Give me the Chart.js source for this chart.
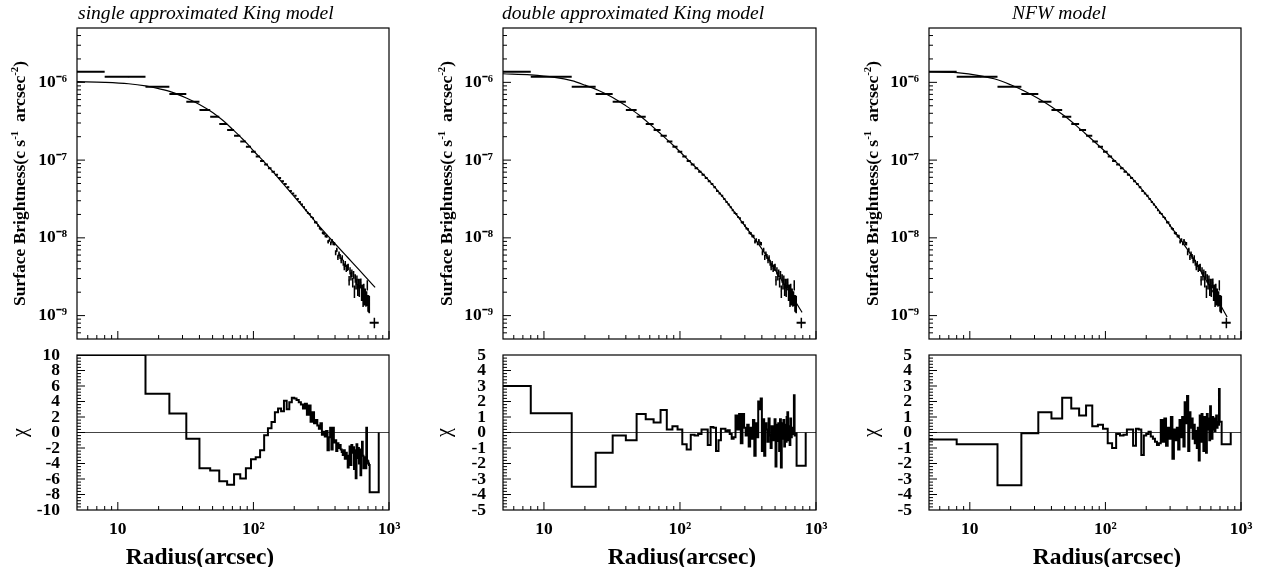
<!DOCTYPE html>
<html>
<head>
<meta charset="utf-8">
<script src="https://cdn.jsdelivr.net/npm/chart.js@4.4.1/dist/chart.umd.min.js"></script>
<style>
html,body{margin:0;padding:0;background:#fff;}
#wrap{position:relative;width:1270px;height:567px;overflow:hidden;background:#fff;}
#wrap canvas{position:absolute;}
</style>
</head>
<body>
<div id="wrap"></div>
<script>
// ---------------- DATA ----------------
const panelTitles = ['single approximated King model', 'double approximated King model', 'NFW model'];

// radial bins (arcsec)
const binLo = [0,8,16,24,32,40,48,56,64,72,80,88,96,104,112,120,128,136,144,152,160,168,176,184,192,200,208,216,224,232,240,248,256,264,272,280,288,296,304,312,320,328,336,344,352,360,368,376,384,392,400,408,416,424,432,440,448,456,464,472,480,488,496,504,512,520,528,536,544,552,560,568,576,584,592,600,608,616,624,632,640,648,656,664,672,680,688,696,704,712,720];
const binHi = [8,16,24,32,40,48,56,64,72,80,88,96,104,112,120,128,136,144,152,160,168,176,184,192,200,208,216,224,232,240,248,256,264,272,280,288,296,304,312,320,328,336,344,352,360,368,376,384,392,400,408,416,424,432,440,448,456,464,472,480,488,496,504,512,520,528,536,544,552,560,568,576,584,592,600,608,616,624,632,640,648,656,664,672,680,688,696,704,712,720,840];

// surface brightness (c s^-1 arcsec^-2) and its error
const brightness = [
 1.37e-6,1.18e-6,8.8e-7,7.1e-7,5.64e-7,4.41e-7,3.61e-7,2.91e-7,2.44e-7,2.05e-7,
 1.73e-7,1.49e-7,1.28e-7,1.11e-7,9.71e-8,8.76e-8,7.85e-8,7.09e-8,6.46e-8,5.89e-8,
 5.34e-8,4.94e-8,4.49e-8,4.0e-8,3.72e-8,3.49e-8,3.17e-8,2.9e-8,2.68e-8,2.47e-8,
 2.27e-8,2.10e-8,2.03e-8,1.86e-8,1.78e-8,1.59e-8,1.57e-8,1.44e-8,1.33e-8,1.29e-8,
 1.16e-8,1.14e-8,1.055e-8,1.05e-8,8.93e-9,9.41e-9,8.51e-9,9.15e-9,8.48e-9,8.41e-9,
 6.45e-9,7.02e-9,5.63e-9,6.24e-9,5.77e-9,5.15e-9,5.54e-9,4.81e-9,4.26e-9,4.63e-9,
 4.05e-9,4.15e-9,4.24e-9,2.84e-9,3.78e-9,3.21e-9,3.53e-9,2.68e-9,3.36e-9,2.06e-9,
 3.03e-9,2.54e-9,2.89e-9,2.16e-9,2.6e-9,2.1e-9,2.6e-9,2.64e-9,1.9e-9,2.15e-9,
 1.65e-9,2.2e-9,1.71e-9,1.87e-9,1.66e-9,1.69e-9,2.48e-9,1.48e-9,1.46e-9,1.43e-9,
 8.1e-10];
const brightnessErr = [
 2.5e-8,1.5e-8,1.0e-8,7e-9,5e-9,4e-9,3.2e-9,2.6e-9,2.2e-9,1.9e-9,
 1.7e-9,1.5e-9,1.3e-9,1.2e-9,1.1e-9,1.0e-9,9.5e-10,9e-10,8.5e-10,8e-10,
 8e-10,7.5e-10,7e-10,7e-10,6.5e-10,6.5e-10,6e-10,6e-10,5.5e-10,5.5e-10,
 5e-10,5.3e-10,5.2e-10,5e-10,5e-10,4.9e-10,4.9e-10,4.9e-10,4.8e-10,4.8e-10,
 4.7e-10,4.6e-10,4.6e-10,4.5e-10,4.8e-10,4.7e-10,4.8e-10,4.8e-10,4.7e-10,4.6e-10,
 4.6e-10,4.5e-10,4.4e-10,4.4e-10,4.3e-10,4.3e-10,4.4e-10,4.3e-10,4.2e-10,4.1e-10,
 4.1e-10,4.1e-10,4.1e-10,4.0e-10,4.0e-10,3.9e-10,3.9e-10,3.9e-10,3.8e-10,3.8e-10,
 3.8e-10,3.8e-10,3.8e-10,3.75e-10,3.7e-10,3.7e-10,3.7e-10,3.7e-10,3.6e-10,3.6e-10,
 3.6e-10,3.6e-10,3.6e-10,3.6e-10,3.6e-10,3.6e-10,3.7e-10,3.6e-10,3.6e-10,3.6e-10,
 1.25e-10];

// fitted model curves
const modelRadius = [5,8,12,16,20,25,32,40,50,60,70,80,90,100,120,150,200,250,300,400,500,600,700,790];
const modelSingleKing = [1.02e-6,1.0e-6,9.6e-7,9.0e-7,8.3e-7,7.5e-7,6.3e-7,5.2e-7,4.1e-7,3.2e-7,2.5e-7,2.0e-7,1.63e-7,1.32e-7,9.5e-8,6.1e-8,3.4e-8,2.15e-8,1.47e-8,8.4e-9,5.5e-9,3.9e-9,2.9e-9,2.3e-9];
const modelDoubleKing = [1.29e-6,1.25e-6,1.16e-6,1.05e-6,9.2e-7,7.9e-7,6.4e-7,5.0e-7,3.8e-7,2.9e-7,2.28e-7,1.85e-7,1.53e-7,1.28e-7,9.3e-8,6.4e-8,3.6e-8,2.18e-8,1.43e-8,7.2e-9,3.9e-9,2.36e-9,1.55e-9,1.1e-9];
const modelNFW = [1.37e-6,1.33e-6,1.21e-6,1.08e-6,9.3e-7,7.8e-7,6.2e-7,4.85e-7,3.68e-7,2.84e-7,2.25e-7,1.83e-7,1.52e-7,1.28e-7,9.4e-8,6.4e-8,3.6e-8,2.2e-8,1.44e-8,7.2e-9,3.85e-9,2.25e-9,1.4e-9,9.6e-10];

// residuals (chi) per bin
const chiSingleKing = [
 10,10,5.0,2.45,-0.8,-4.6,-4.9,-6.3,-6.75,-5.4,
 -5.95,-4.6,-3.45,-3.2,-2.3,-0.35,0.55,1.35,2.6,3.1,
 2.75,4.1,3.0,3.9,4.5,4.4,4.2,3.9,3.6,3.1,
 3.7,2.3,3.5,1.4,2.6,1.2,1.6,0.9,0.5,1.2,
 -0.3,0.1,-0.5,0.2,-2.3,-0.6,0.6,-2.2,0.6,-1.3,
 -1.0,-2.4,-1.4,-2.0,-1.6,-2.2,-2.5,-2.9,-2.3,-3.4,
 -2.6,-3.0,-4.5,-3.1,-1.8,-4.2,-1.6,-2.6,-1.9,-4.7,
 -2.3,-5.9,-1.5,-3.3,-2.0,-4.0,-2.2,-5.5,-2.8,-1.2,
 -3.0,-4.6,-3.2,-4.4,-4.6,0.6,-3.6,-3.7,-4.0,-4.2,
 -7.7];
const chiDoubleKing = [
 3.0,1.25,-3.5,-1.3,-0.2,-0.5,1.2,0.85,0.65,1.45,
 0.2,0.4,0.2,-0.75,-1.1,-0.15,-0.2,-0.1,0.2,0.2,
 -0.8,0.35,0.3,-1.2,-0.5,0.25,0.25,0.1,0.15,-0.1,
 -0.4,-0.3,1.1,0.2,1.2,-0.7,1.2,0.3,-0.2,0.5,
 -0.9,0.3,-0.4,0.8,-1.5,0.6,-0.3,2.0,1.5,2.2,
 -1.2,0.85,-1.5,0.6,0.2,-0.6,0.9,-0.2,-1.0,0.4,
 -0.5,0.2,0.85,-2.2,0.5,-0.55,0.6,-1.2,0.85,-2.25,
 0.6,-0.4,0.8,-0.9,0.5,-0.6,1.0,1.3,-0.5,0.4,
 -0.8,0.9,-0.3,0.3,-0.1,0.1,2.4,-0.2,-0.1,-0.05,
 -2.15];
const chiNFW = [
 -0.45,-0.75,-3.4,-0.05,1.3,0.9,2.25,1.55,1.1,1.75,
 0.4,0.5,0.25,-0.7,-1.0,-0.1,-0.2,-0.15,0.2,0.2,
 -0.85,0.25,0.2,-1.45,-0.2,-0.1,0.05,-0.25,-0.4,-0.6,
 -0.8,-0.7,0.8,-0.6,0.9,-0.85,0.3,-0.4,1.0,-1.7,
 0.2,-0.5,0.3,-1.1,0.8,-0.3,1.0,-0.9,1.95,0.6,
 2.35,-1.2,1.3,0.3,0.9,-0.4,0.5,-0.7,0.1,-1.0,
 0.3,-1.8,1.1,-0.6,1.2,0.2,-1.2,1.0,0.4,-1.3,
 1.2,0.2,0.9,-0.5,1.7,0.6,-0.4,1.0,0.2,0.9,
 0.1,0.5,1.1,0.3,0.7,0.5,2.8,0.7,0.7,0.7,
 -0.75];

// axis ranges and tick labels
const xMin = 5, xMax = 1000;
const xTickValues = [10, 100, 1000];
const xTickLabels = ['10', '10\u00B2', '10\u00B3'];
const yTopMin = 5e-10, yTopMax = 5e-6;
const yTopTickValues = [1e-9, 1e-8, 1e-7, 1e-6];
const yTopTickLabels = ['10\u207B\u2079', '10\u207B\u2078', '10\u207B\u2077', '10\u207B\u2076'];
const chiTicksWide = [-10,-8,-6,-4,-2,0,2,4,6,8,10];
const chiTicksNarrow = [-5,-4,-3,-2,-1,0,1,2,3,4,5];

// ---------------- LAYOUT ----------------
const FONT = "'Liberation Serif','Times New Roman',Times,serif";
Chart.defaults.font.family = FONT;
Chart.defaults.color = '#000';

const columns = [
  {canvasL: 0,   plotL: 77,  plotR: 389,  titleX: 78,   yTitleX: 25,  chiX: 26,  radX: 200,
   models: modelSingleKing, chi: chiSingleKing, chiTicks: chiTicksWide, chiRange: 10},
  {canvasL: 425, plotL: 503, plotR: 816,  titleX: 502,  yTitleX: 452, chiX: 450, radX: 682,
   models: modelDoubleKing, chi: chiDoubleKing, chiTicks: chiTicksNarrow, chiRange: 5},
  {canvasL: 850, plotL: 929, plotR: 1241, titleX: 1012, yTitleX: 878, chiX: 877, radX: 1107,
   models: modelNFW, chi: chiNFW, chiTicks: chiTicksNarrow, chiRange: 5}
];
const CANVAS_W = 420;
const TOP = {top: 0, height: 345, areaTop: 28, areaBottom: 339};
const BOT = {top: 340, height: 227, areaTop: 355, areaBottom: 510};

function addCanvas(left, top, w, h) {
  const c = document.createElement('canvas');
  c.width = w; c.height = h;
  c.style.left = left + 'px'; c.style.top = top + 'px';
  c.style.width = w + 'px'; c.style.height = h + 'px';
  document.getElementById('wrap').appendChild(c);
  return c;
}

function noPad(s) { s.paddingTop = 0; s.paddingBottom = 0; s.paddingLeft = 0; s.paddingRight = 0; }

function drawRich(ctx, parts, x, y, size, weight, style, align) {
  const supSize = size * 0.62;
  const fontOf = (p) => `${style} ${weight} ${p.sup ? supSize : size}px ${FONT}`;
  let total = 0;
  const widths = parts.map(p => { ctx.font = fontOf(p); const w = ctx.measureText(p.t).width; total += w; return w; });
  let cx = align === 'center' ? x - total / 2 : x;
  ctx.textAlign = 'left';
  ctx.textBaseline = 'alphabetic';
  parts.forEach((p, i) => {
    ctx.font = fontOf(p);
    ctx.fillText(p.t, cx, p.sup ? y - size * 0.42 : y);
    cx += widths[i];
  });
}

const rootStyle = {
  id: 'rootStyle',
  afterDraw(chart, args, opts) {
    const ctx = chart.ctx, a = chart.chartArea;
    const xs = chart.scales.x, ys = chart.scales.y;
    const col = columns[opts.ci];
    ctx.save();
    ctx.strokeStyle = '#000';
    ctx.fillStyle = '#000';
    // frame
    ctx.lineWidth = 1.2;
    ctx.strokeRect(a.left, a.top, a.right - a.left, a.bottom - a.top);
    // inward ticks
    ctx.lineWidth = 1;
    ctx.beginPath();
    for (let e = 0; e <= 3; e++) {
      for (let m = 1; m <= 9; m++) {
        const v = m * Math.pow(10, e);
        if (v <= xMin + 1e-9 || v > xMax + 1e-9) continue;
        const px = xs.getPixelForValue(v);
        ctx.moveTo(px, a.bottom); ctx.lineTo(px, a.bottom - (m === 1 ? 8 : 4));
      }
    }
    if (opts.kind === 'top') {
      for (let e = -10; e <= -6; e++) {
        for (let m = 1; m <= 9; m++) {
          const v = m * Math.pow(10, e);
          if (v <= yTopMin * 1.001 || v >= yTopMax * 0.999) continue;
          const py = ys.getPixelForValue(v);
          ctx.moveTo(a.left, py); ctx.lineTo(a.left + (m === 1 ? 8 : 4), py);
        }
      }
    } else {
      const ticks = col.chiTicks;
      const step = ticks[1] - ticks[0];
      const minor = step / 5;
      const n = Math.round((ticks[ticks.length - 1] - ticks[0]) / minor);
      for (let k = 1; k < n; k++) {
        const v = ticks[0] + k * minor;
        const py = ys.getPixelForValue(v);
        ctx.moveTo(a.left, py); ctx.lineTo(a.left + (k % 5 === 0 ? 8 : 4), py);
      }
    }
    ctx.stroke();

    const cl = col.canvasL;
    if (opts.kind === 'top') {
      // panel title
      ctx.font = `italic 19.6px ${FONT}`;
      ctx.textAlign = 'left'; ctx.textBaseline = 'alphabetic';
      ctx.fillText(panelTitles[opts.ci], col.titleX - cl, 19);
      // y title
      ctx.save();
      ctx.translate(col.yTitleX - cl, (TOP.areaTop + TOP.areaBottom) / 2);
      ctx.rotate(-Math.PI / 2);
      drawRich(ctx, [{t: 'Surface Brightness(c s'}, {t: '-1', sup: true}, {t: '  arcsec'}, {t: '-2', sup: true}, {t: ')'}],
               0, 0, 17.5, 'bold', 'normal', 'center');
      ctx.restore();
    } else {
      // chi title
      ctx.save();
      ctx.translate(col.chiX - cl, ys.getPixelForValue(0));
      ctx.rotate(-Math.PI / 2);
      ctx.font = `normal 20px ${FONT}`;
      ctx.textAlign = 'center'; ctx.textBaseline = 'alphabetic';
      ctx.fillText('\u03C7', 0, 0);
      ctx.restore();
      // x title
      ctx.font = `bold 23.5px ${FONT}`;
      ctx.textAlign = 'center'; ctx.textBaseline = 'alphabetic';
      ctx.fillText('Radius(arcsec)', col.radX - cl, 564 - BOT.top);
    }
    ctx.restore();
  }
};

const baseLine = {borderColor: '#000', pointRadius: 0, pointHoverRadius: 0, fill: false, spanGaps: false};

function makeTop(ci) {
  const col = columns[ci];
  const canvas = addCanvas(col.canvasL, TOP.top, CANVAS_W, TOP.height);
  const hBars = [], vBars = [];
  for (let i = 0; i < binLo.length; i++) {
    const y = brightness[i], e = brightnessErr[i];
    const mid = (binLo[i] + binHi[i]) / 2;
    hBars.push({x: Math.max(binLo[i], xMin), y: y}, {x: binHi[i], y: y}, {x: binHi[i], y: null});
    vBars.push({x: mid, y: y - e}, {x: mid, y: y + e}, {x: mid, y: null});
  }
  const model = modelRadius.map((r, i) => ({x: r, y: col.models[i]}));
  new Chart(canvas, {
    type: 'line',
    data: {datasets: [
      Object.assign({}, baseLine, {label: 'model', data: model, borderWidth: 1.2, cubicInterpolationMode: 'monotone'}),
      Object.assign({}, baseLine, {label: 'data', data: hBars, borderWidth: 2}),
      Object.assign({}, baseLine, {label: 'error', data: vBars, borderWidth: 1.5})
    ]},
    options: {
      responsive: false, animation: false, devicePixelRatio: 1, events: [],
      layout: {padding: {top: TOP.areaTop - TOP.top, bottom: TOP.top + TOP.height - TOP.areaBottom, left: 0,
                         right: CANVAS_W - (col.plotR - col.canvasL)}},
      plugins: {legend: {display: false}, tooltip: {enabled: false}, rootStyle: {kind: 'top', ci: ci}},
      scales: {
        x: {type: 'logarithmic', position: 'bottom', min: xMin, max: xMax, bounds: 'data',
            ticks: {display: false}, grid: {display: false, drawTicks: false}, border: {display: false},
            afterFit(s) { s.height = 0; noPad(s); }},
        y: {type: 'logarithmic', position: 'left', min: yTopMin, max: yTopMax, bounds: 'data',
            grid: {display: false, drawTicks: false}, border: {display: false},
            afterBuildTicks(s) { s.ticks = yTopTickValues.map(v => ({value: v})); },
            ticks: {autoSkip: false, padding: 10, font: {size: 17.5, weight: 'bold'},
                    callback: (v, i) => yTopTickLabels[i]},
            afterFit(s) { s.width = col.plotL - col.canvasL; noPad(s); }}
      }
    },
    plugins: [rootStyle]
  });
}

function makeBottom(ci) {
  const col = columns[ci];
  const canvas = addCanvas(col.canvasL, BOT.top, CANVAS_W, BOT.height);
  const steps = binLo.map((lo, i) => ({x: Math.max(lo, xMin), y: col.chi[i]}));
  steps.push({x: binHi[binHi.length - 1], y: 0});
  const zero = [{x: xMin, y: 0}, {x: xMax, y: 0}];
  new Chart(canvas, {
    type: 'line',
    data: {datasets: [
      Object.assign({}, baseLine, {label: 'chi', data: steps, borderWidth: 2, stepped: 'before'}),
      Object.assign({}, baseLine, {label: 'zero', data: zero, borderWidth: 1, borderColor: '#444'})
    ]},
    options: {
      responsive: false, animation: false, devicePixelRatio: 1, events: [],
      layout: {padding: {top: BOT.areaTop - BOT.top, bottom: 0, left: 0,
                         right: CANVAS_W - (col.plotR - col.canvasL)}},
      plugins: {legend: {display: false}, tooltip: {enabled: false}, rootStyle: {kind: 'bottom', ci: ci}},
      scales: {
        x: {type: 'logarithmic', position: 'bottom', min: xMin, max: xMax, bounds: 'data',
            grid: {display: false, drawTicks: false}, border: {display: false},
            afterBuildTicks(s) { s.ticks = xTickValues.map(v => ({value: v})); },
            ticks: {autoSkip: false, maxRotation: 0, minRotation: 0, padding: 9,
                    font: {size: 17.5, weight: 'bold'}, callback: (v, i) => xTickLabels[i]},
            afterFit(s) { s.height = BOT.top + BOT.height - BOT.areaBottom; noPad(s); }},
        y: {type: 'linear', position: 'left', min: -col.chiRange, max: col.chiRange, bounds: 'data',
            grid: {display: false, drawTicks: false}, border: {display: false},
            afterBuildTicks(s) { s.ticks = col.chiTicks.map(v => ({value: v})); },
            ticks: {autoSkip: false, padding: 17, font: {size: 17.5, weight: 'bold'},
                    callback: (v, i) => String(col.chiTicks[i])},
            afterFit(s) { s.width = col.plotL - col.canvasL; noPad(s); }}
      }
    },
    plugins: [rootStyle]
  });
}

for (let ci = 0; ci < 3; ci++) { makeTop(ci); makeBottom(ci); }
</script>
</body>
</html>
